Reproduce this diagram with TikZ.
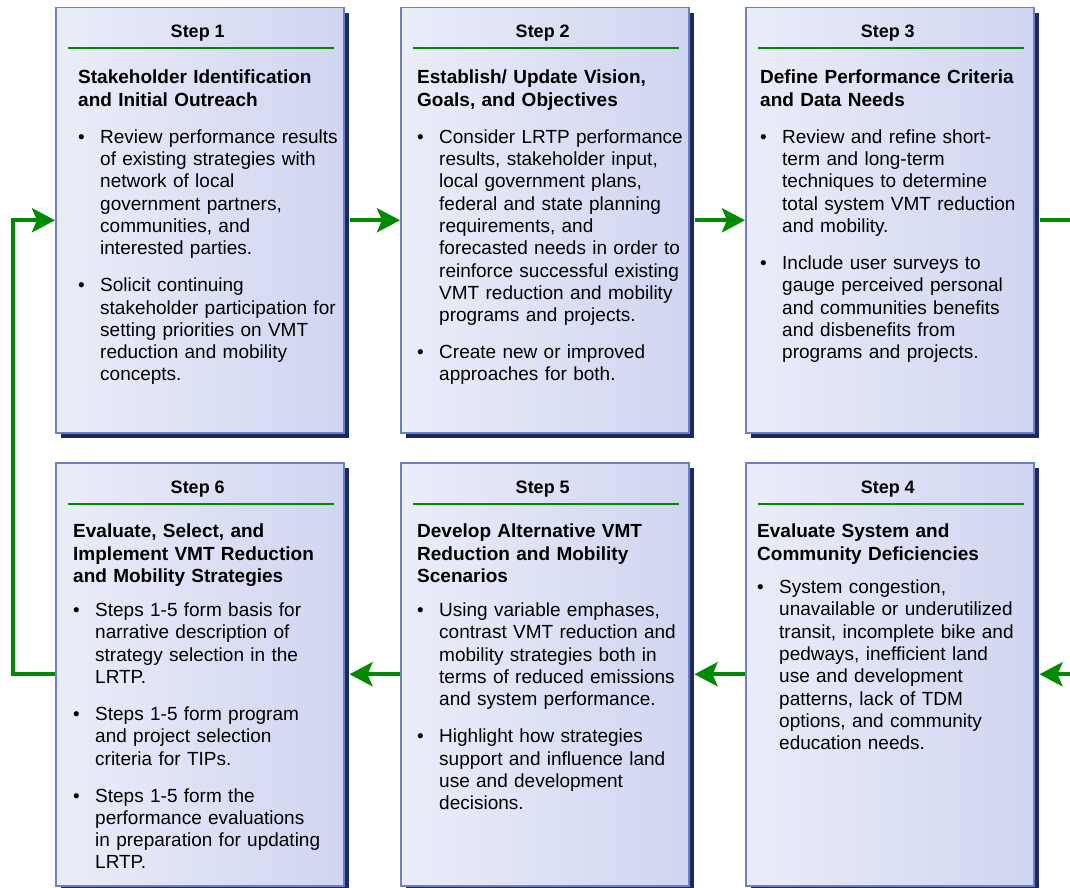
\documentclass[tikz,border=0pt]{standalone}
\usepackage{fontspec}
\setmainfont{Liberation Sans}
\usepackage{enumitem}
\usetikzlibrary{positioning, calc, shadows, arrows.meta}
\definecolor{box-left}{HTML}{EAEDF9}
\definecolor{box-right}{HTML}{D0D5F1}
\definecolor{box-edge}{HTML}{6F7FC6}
\definecolor{box-shadow}{HTML}{1C2A62}
\definecolor{flow-green}{HTML}{008A00}

\newlist{stepitems}{itemize}{1}
\setlist[stepitems]{label=\textbullet, leftmargin=22pt, labelwidth=22pt,
  labelsep=0pt, align=left, itemindent=0pt, topsep=0pt, partopsep=0pt,
  parsep=0pt, itemsep=14.7pt, before=\raggedright}

\tikzset{
  stepbox/.style={draw=box-edge, line width=1.5pt, left color=box-left,
    right color=box-right, minimum width=288pt, minimum height=425pt,
    anchor=north west, inner sep=0pt,
    drop shadow={shadow xshift=5pt, shadow yshift=-5pt, fill=box-shadow, opacity=1}},
  stephead/.style={font=\bfseries\fontsize{18}{21}\selectfont, anchor=base, inner sep=0pt},
  steptitle/.style={font=\bfseries\fontsize{19}{22.5}\selectfont, text width=270pt,
    align=left, anchor=north west, inner sep=0pt},
  stepbody/.style={font=\fontsize{19}{22.3}\selectfont, text width=275pt,
    anchor=north west, inner sep=0pt},
  greenrule/.style={draw=flow-green, line width=2pt},
  flowline/.style={draw=flow-green, line width=4pt},
  flow/.style={flowline, -{Stealth[length=23pt, width=24pt, inset=5pt]}}
}

\begin{document}
\begin{tikzpicture}[x=1pt, y=-1pt]
  \useasboundingbox (0,0) rectangle (1070,888);
  % the six step boxes
  \node[stepbox] (s1) at (55,7) {};
  \node[stepbox] (s2) at (400,7) {};
  \node[stepbox] (s3) at (745,7) {};
  \node[stepbox, minimum height=423pt] (s6) at (55,462) {};
  \node[stepbox, minimum height=423pt] (s5) at (400,462) {};
  \node[stepbox, minimum height=423pt] (s4) at (745,462) {};
  \coordinate (edge) at (1070,0);

  % headers and green rules
  \foreach \n in {1,...,6} {
    \node[stephead] (h\n) at ($(s\n.north)+(-2,31)$) {Step \n};
    \draw[greenrule] ($(s\n.north west)+(13,41.5)$) -- ($(s\n.north east)+(-11,41.5)$);
  }

  % step 1
  \node[steptitle] (t1) at (78,70) {Stakeholder Identification\\and Initial Outreach};
  \node[stepbody] (b1) at (78,120.7) {%
    \begin{stepitems}
      \item Review performance results\\of existing strategies with\\network of local\\government partners,\\communities, and\\interested parties.
      \item Solicit continuing\\stakeholder participation for\\setting priorities on VMT\\reduction and mobility\\concepts.
    \end{stepitems}};
  % step 2
  \node[steptitle] (t2) at (417,70) {Establish/ Update Vision,\\Goals, and Objectives};
  \node[stepbody] (b2) at (417,120.7) {%
    \begin{stepitems}
      \item Consider LRTP performance\\results, stakeholder input,\\local government plans,\\federal and state planning\\requirements, and\\forecasted needs in order to\\reinforce successful existing\\VMT reduction and mobility\\programs and projects.
      \item Create new or improved\\approaches for both.
    \end{stepitems}};
  % step 3
  \node[steptitle] (t3) at (760,70) {Define Performance Criteria\\and Data Needs};
  \node[stepbody] (b3) at (760,120.7) {%
    \begin{stepitems}
      \item Review and refine short-\\term and long-term\\techniques to determine\\total system VMT reduction\\and mobility.
      \item Include user surveys to\\gauge perceived personal\\and communities benefits\\and disbenefits from\\programs and projects.
    \end{stepitems}};
  % step 4
  \node[steptitle] (t4) at (757,524) {Evaluate System and\\Community Deficiencies};
  \node[stepbody] (b4) at (757,571) {%
    \begin{stepitems}
      \item System congestion,\\unavailable or underutilized\\transit, incomplete bike and\\pedways, inefficient land\\use and development\\patterns, lack of TDM\\options, and community\\education needs.
    \end{stepitems}};
  % step 5
  \node[steptitle] (t5) at (417,524) {Develop Alternative VMT\\Reduction and Mobility\\Scenarios};
  \node[stepbody] (b5) at (417,594) {%
    \begin{stepitems}
      \item Using variable emphases,\\contrast VMT reduction and\\mobility strategies both in\\terms of reduced emissions\\and system performance.
      \item Highlight how strategies\\support and influence land\\use and development\\decisions.
    \end{stepitems}};
  % step 6
  \node[steptitle] (t6) at (73,524) {Evaluate, Select, and\\Implement VMT Reduction\\and Mobility Strategies};
  \node[stepbody] (b6) at (73,594) {%
    \begin{stepitems}
      \item Steps 1-5 form basis for\\narrative description of\\strategy selection in the\\LRTP.
      \item Steps 1-5 form program\\and project selection\\criteria for TIPs.
      \item Steps 1-5 form the\\performance evaluations\\in preparation for updating\\LRTP.
    \end{stepitems}};

  % flow between the steps
  \draw[flow] ([xshift=5pt]s1.east) -- (s2.west);
  \draw[flow] ([xshift=5pt]s2.east) -- (s3.west);
  \draw[flowline] ([xshift=5pt]s3.east) -- (s3.east -| edge);
  \draw[flow] (s4.east -| edge) -- ([xshift=5pt]s4.east);
  \draw[flow] (s4.west) -- ([xshift=5pt]s5.east);
  \draw[flow] (s5.west) -- ([xshift=5pt]s6.east);
  \draw[flow] (s6.west) -- ++(-42,0) |- (s1.west);
\end{tikzpicture}
\end{document}
